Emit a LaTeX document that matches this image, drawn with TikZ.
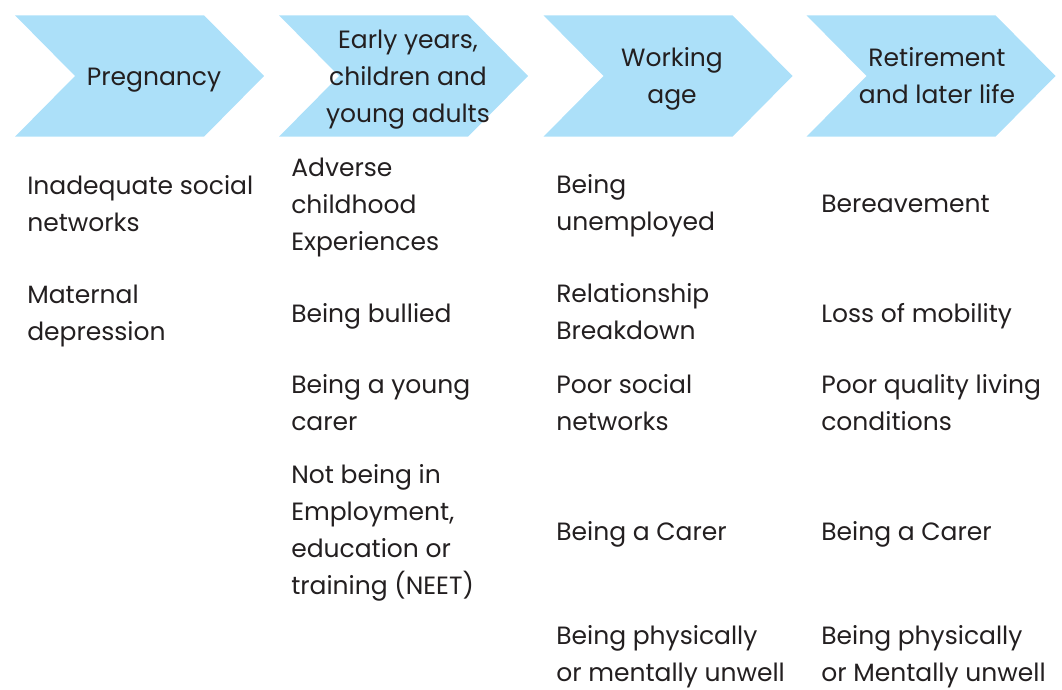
\documentclass[tikz,border=0pt]{standalone}
\usepackage{fontspec}
\setmainfont{Poppins}
\definecolor{chevfill}{RGB}{172,224,249}
\definecolor{ink}{RGB}{35,31,32}
\newcommand{\lblock}[1]{\begin{tabular}[t]{@{}l@{}}#1\end{tabular}}
\newcommand{\cblock}[1]{\begin{tabular}[t]{@{}c@{}}#1\end{tabular}}
\tikzset{
  x=0.75pt, y=-0.75pt,
  chevshape/.pic={\fill[chevfill] (0,0) -- (189,0) -- (249,60.7) -- (189,121.4) -- (0,121.4) -- (60,60.7) -- cycle;},
  txt/.style={inner sep=0pt, text=ink, font={\fontsize{18.75}{27.75}\selectfont}},
  itembox/.style={txt, anchor=base west},
  stagelabel/.style={txt, anchor=base},
}
\begin{document}
\begin{tikzpicture}
\useasboundingbox (0,0) rectangle (1062,689);
% chevrons
\pic (c1) at (15,15.3) {chevshape};
\pic (c2) at (279,15.3) {chevshape};
\pic (c3) at (543.5,15.3) {chevshape};
\pic (c4) at (806.5,15.3) {chevshape};
% stage labels
\node[stagelabel] (t1) at (154,85) {\cblock{Pregnancy}};
\node[stagelabel] (t2) at (408,48) {\cblock{Early years,\\children and\\young adults}};
\node[stagelabel] (t3) at (672,66) {\cblock{Working\\age}};
\node[stagelabel] (t4) at (937,66) {\cblock{Retirement\\and later life}};
% column 1
\node[itembox] (a1) at (27,194) {\lblock{Inadequate social\\networks}};
\node[itembox] (a2) at (27,303) {\lblock{Maternal\\depression}};
% column 2
\node[itembox] (b1) at (291,176.5) {\lblock{Adverse\\childhood\\Experiences}};
\node[itembox] (b2) at (291,322.3) {\lblock{Being bullied}};
\node[itembox] (b3) at (291,393.3) {\lblock{Being a young\\carer}};
\node[itembox] (b4) at (291,483.5) {\lblock{Not being in\\Employment,\\education or\\training (NEET)}};
% column 3
\node[itembox] (c1t) at (556,193.3) {\lblock{Being\\unemployed}};
\node[itembox] (c2t) at (556,302.7) {\lblock{Relationship\\Breakdown}};
\node[itembox] (c3t) at (556,393.3) {\lblock{Poor social\\networks}};
\node[itembox] (c4t) at (556,540) {\lblock{Being a Carer}};
\node[itembox] (c5t) at (556,644) {\lblock{Being physically\\or mentally unwell}};
% column 4
\node[itembox] (d1) at (821,212.7) {\lblock{Bereavement}};
\node[itembox] (d2) at (821,322.3) {\lblock{Loss of mobility}};
\node[itembox] (d3) at (821,393.3) {\lblock{Poor quality living\\conditions}};
\node[itembox] (d4) at (821,540) {\lblock{Being a Carer}};
\node[itembox] (d5) at (821,644) {\lblock{Being physically\\or Mentally unwell}};
\end{tikzpicture}
\end{document}
